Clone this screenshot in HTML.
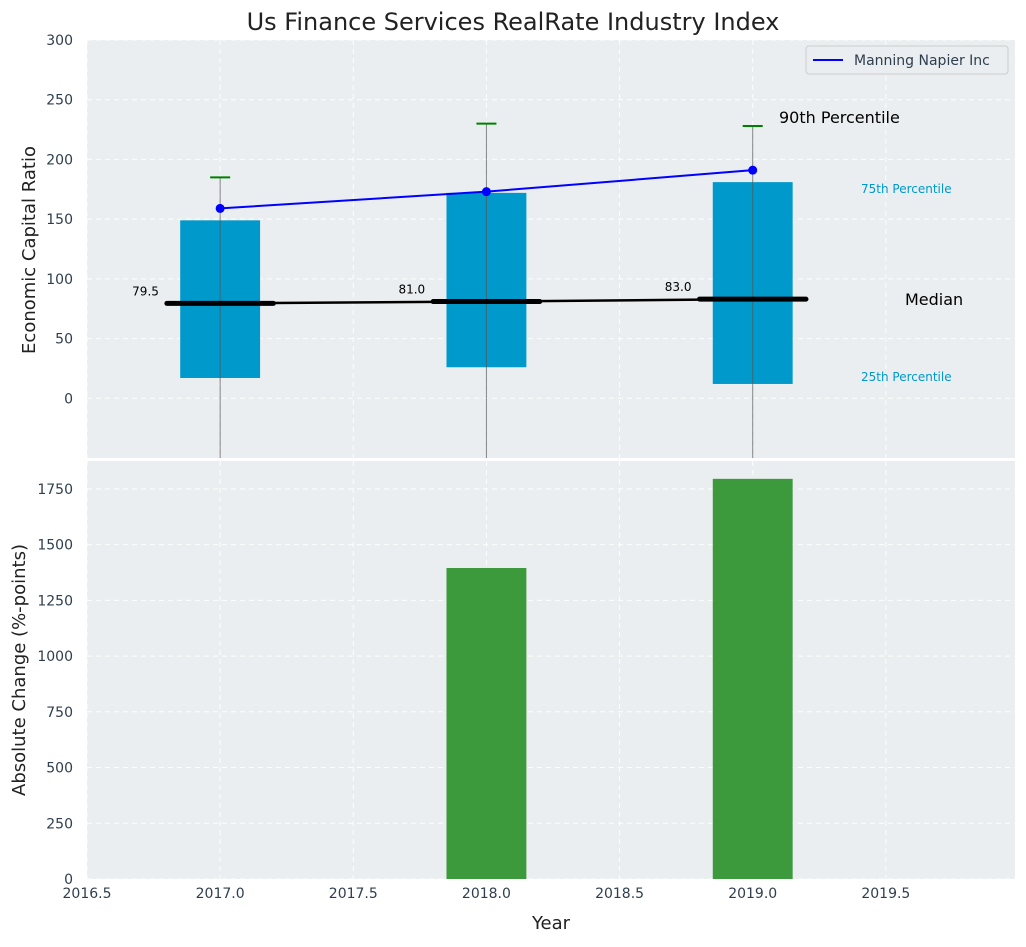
<!DOCTYPE html>
<html><head><meta charset="utf-8"><style>
body{margin:0;background:#fff;font-family:"Liberation Sans","DejaVu Sans",sans-serif;}
svg text{font-family:"DejaVu Sans","Liberation Sans",sans-serif;}
</style></head><body>
<svg id="c" width="1026" height="942"></svg>
<script>
const years=[2017,2018,2019];
const p25=[17,26,12];
const p75=[149,172,181];
const p90=[185,230,228];
const p10=[-60,-60,-60];
const medians=[79.5,81.0,83.0];
const manning=[159,173,191];
const absChange=[0,1395,1795];
const xTicks=[2016.5,2017.0,2017.5,2018.0,2018.5,2019.0,2019.5];
const yTopTicks=[0,50,100,150,200,250,300];
const yBotTicks=[0,250,500,750,1000,1250,1500,1750];

const NS="http://www.w3.org/2000/svg";
const svg=document.getElementById('c');
function el(t,a,p){const e=document.createElementNS(NS,t);for(const k in a)e.setAttribute(k,a[k]);(p||svg).appendChild(e);return e;}
const L=87,R=1015;
const X=v=>L+(v-2016.5)*(R-L)/(3.485);
const T0=40,T1=458,B0=461,B1=879;
const YT=v=>T1-(v+50)*(T1-T0)/350;
const YB=v=>B1-v*(B1-B0)/1875;
function txt(x,y,s,o){const e=el('text',Object.assign({x:x,y:y,'font-size':14,fill:'#2f3e4e'},o||{}));e.textContent=s;return e;}

// top panel
let bg=el('rect',{x:L,y:T0,width:R-L,height:T1-T0,fill:'#eaeef0'});


let bg2=el('rect',{x:L,y:B0,width:R-L,height:B1-B0,fill:'#eaeef0'});


const grid={stroke:'#fff','stroke-dasharray':'5,4','stroke-width':1,opacity:0.9};
xTicks.forEach(v=>{el('line',Object.assign({x1:X(v),x2:X(v),y1:T0,y2:T1},grid));el('line',Object.assign({x1:X(v),x2:X(v),y1:B0,y2:B1},grid));
 const t=txt(X(v),898,v.toFixed(1),{'text-anchor':'middle'});});
yTopTicks.forEach(v=>{el('line',Object.assign({x1:L,x2:R,y1:YT(v),y2:YT(v)},grid));
 const t=txt(73,YT(v)+5,String(v),{'text-anchor':'end'});});
yBotTicks.forEach(v=>{el('line',Object.assign({x1:L,x2:R,y1:YB(v),y2:YB(v)},grid));
 const t=txt(73,YB(v)+5,String(v),{'text-anchor':'end'});});

const hw=0.15;
years.forEach((y,i)=>{
 const b=el('rect',{x:X(y-hw),y:YT(p75[i]),width:X(y+hw)-X(y-hw),height:YT(p25[i])-YT(p75[i]),fill:'#0099cc'});
 
 const w=el('line',{x1:X(y),x2:X(y),y1:Math.min(T1,YT(p10[i])),y2:YT(p90[i]),stroke:'#555','stroke-width':1,opacity:0.7});
 
 const cap=el('line',{x1:X(y)-10,x2:X(y)+10,y1:YT(p90[i]),y2:YT(p90[i]),stroke:'green','stroke-width':2});
 
 const m=el('line',{x1:X(y-0.2),x2:X(y+0.2),y1:YT(medians[i]),y2:YT(medians[i]),stroke:'#000','stroke-width':5,'stroke-linecap':'round'});
 
 const ml=txt(X(y-0.23),YT(medians[i])-8,medians[i].toFixed(1),{'font-size':12,fill:'#000','text-anchor':'end'});
 
});
let ml=el('polyline',{points:years.map((y,i)=>X(y)+','+YT(medians[i])).join(' '),fill:'none',stroke:'#000','stroke-width':2.5});

let mn=el('polyline',{points:years.map((y,i)=>X(y)+','+YT(manning[i])).join(' '),fill:'none',stroke:'blue','stroke-width':2});

years.forEach((y,i)=>{const c=el('circle',{cx:X(y),cy:YT(manning[i]),r:4.5,fill:'blue'});});

let t;
t=txt(779,123,'90th Percentile',{'font-size':16,fill:'#000'});
t=txt(861,193,'75th Percentile',{'font-size':12,fill:'#0099cc'});
t=txt(905,305,'Median',{'font-size':16,fill:'#000'});
t=txt(861,381,'25th Percentile',{'font-size':12,fill:'#0099cc'});

// legend
let lg=el('rect',{x:806,y:46,width:202,height:28,fill:'#eaeef0',stroke:'#ccc',rx:3});

el('line',{x1:813,x2:843,y1:60,y2:60,stroke:'blue','stroke-width':2});
t=txt(854,65,'Manning Napier Inc',{fill:'#2f3e4e'});

// bottom bars
years.forEach((y,i)=>{if(absChange[i]<=0)return;
 const b=el('rect',{x:X(y-hw),y:YB(absChange[i]),width:X(y+hw)-X(y-hw),height:YB(0)-YB(absChange[i]),fill:'#3c9a3c'});
 });

t=txt(513,30,'Us Finance Services RealRate Industry Index',{'font-size':24,fill:'#222','text-anchor':'middle'});
t=txt(551,929,'Year',{'font-size':18,fill:'#222','text-anchor':'middle'});
t=txt(0,0,'Economic Capital Ratio',{'font-size':18,fill:'#222','text-anchor':'middle',transform:'translate(35,250) rotate(-90)'});
t=txt(0,0,'Absolute Change (%-points)',{'font-size':18,fill:'#222','text-anchor':'middle',transform:'translate(25,670) rotate(-90)'});
</script>
</body></html>
